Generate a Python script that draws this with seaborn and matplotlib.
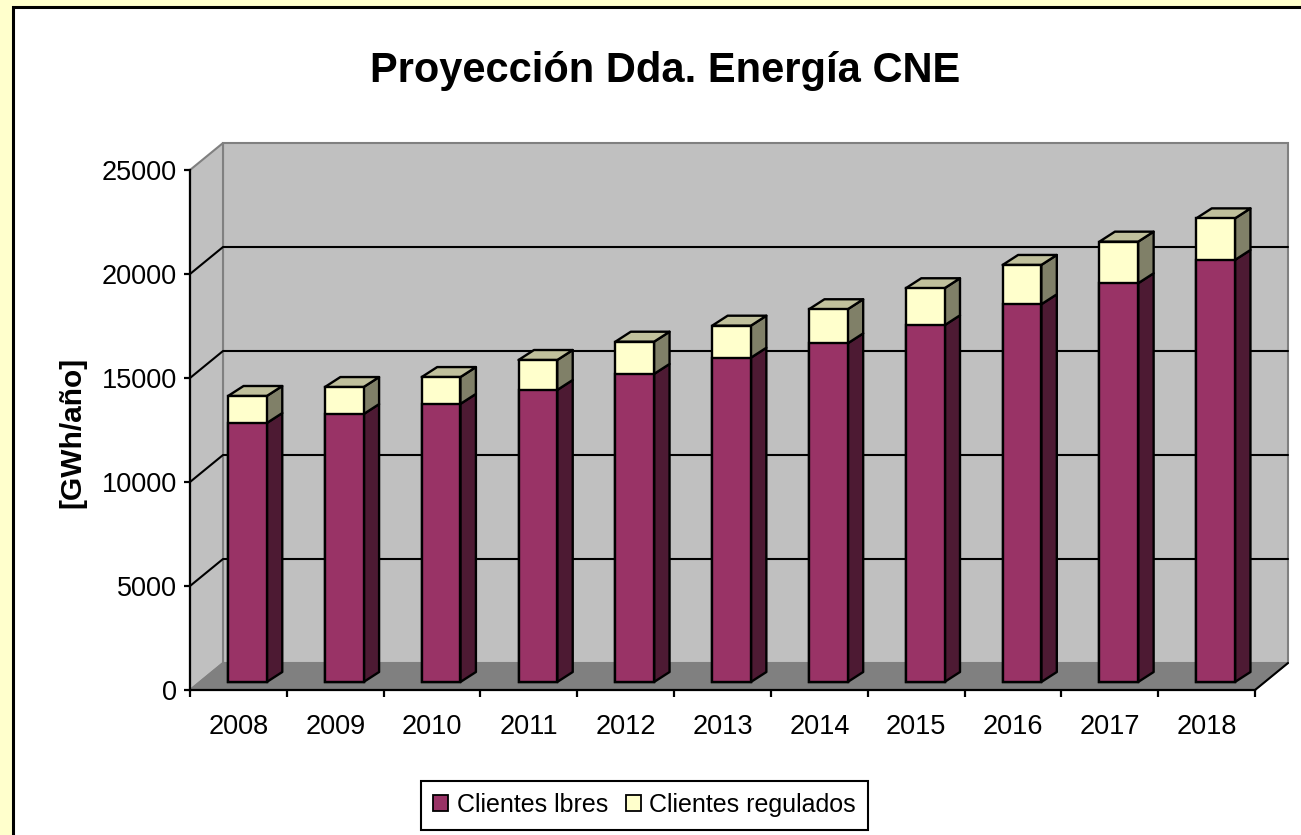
import numpy as np
import pandas as pd
import matplotlib
matplotlib.use('Agg')
import matplotlib.pyplot as plt
import matplotlib.transforms as mtransforms
from matplotlib.patches import Rectangle, Polygon, Patch
import seaborn as sns

# data (GWh/año)
years = ['2008', '2009', '2010', '2011', '2012', '2013', '2014', '2015', '2016', '2017', '2018']
libres = [12450, 12880, 13370, 14040, 14810, 15590, 16280, 17150, 18160, 19170, 20290]
regulados = [1300, 1300, 1290, 1440, 1550, 1540, 1640, 1780, 1890, 2000, 2000]
y_ticks = [0, 5000, 10000, 15000, 20000, 25000]

MAROON, MAROON_SIDE = '#993366', '#4D1A33'
YELLOW, YELLOW_SIDE, YELLOW_TOP = '#FFFFCC', '#808068', '#C0C09C'
WALL, FLOOR, EDGE_GRAY = '#C0C0C0', '#808080', '#808080'

sns.set_style('white')
plt.rcParams['font.family'] = ['Liberation Sans', 'DejaVu Sans']
plt.rcParams['text.color'] = 'black'

W, H = 1301, 835
fig = plt.figure(figsize=(W / 100, H / 100), dpi=100)
fig.patch.set_facecolor('#FFFFCC')

# white chart panel with black frame
fig.patches.append(Rectangle((13 / W, -0.2), 2.0, (H - 7) / H + 0.2, transform=fig.transFigure,
                             facecolor='white', edgecolor='black', linewidth=2.2, zorder=-10))

# front plane of the plot box (pixels from top-left)
x0_px, x1_px, y0_px, y1_px = 190, 1255, 690, 170
ax = fig.add_axes([x0_px / W, (H - y0_px) / H, (x1_px - x0_px) / W, (y0_px - y1_px) / H])
ax.patch.set_visible(False)

n = len(years)
xlim = (-0.5, n - 0.5)
ylim = (0, 25000)
px_x = (x1_px - x0_px) / (xlim[1] - xlim[0])
px_y = (y0_px - y1_px) / (ylim[1] - ylim[0])

def depth(dx_px, dy_px):
    return dx_px / px_x, dy_px / px_y

# walls and floor
Dx, Dy = depth(33, 27)
ax.add_patch(Rectangle((xlim[0] + Dx, Dy), xlim[1] - xlim[0], ylim[1], facecolor=WALL,
                       edgecolor=EDGE_GRAY, linewidth=1.5, zorder=0.5, clip_on=False))
ax.add_patch(Polygon([(xlim[0], 0), (xlim[0], ylim[1]), (xlim[0] + Dx, ylim[1] + Dy), (xlim[0] + Dx, Dy)],
                     facecolor=WALL, edgecolor=EDGE_GRAY, linewidth=1.5, zorder=0.6, clip_on=False))
ax.add_patch(Polygon([(xlim[0], 0), (xlim[1], 0), (xlim[1] + Dx, Dy), (xlim[0] + Dx, Dy)],
                     facecolor=FLOOR, edgecolor=EDGE_GRAY, linewidth=1.2, zorder=0.7, clip_on=False))
ax.plot([xlim[1], xlim[1] + Dx], [0, Dy], color='black', lw=1.5, zorder=0.9, clip_on=False)
for v in y_ticks[1:-1]:
    ax.plot([xlim[0], xlim[0] + Dx, xlim[1] + Dx], [v, v + Dy, v + Dy], color='black', lw=1.5,
            zorder=0.8, clip_on=False)

# bars: totals (yellow) under libres (maroon)
df = pd.DataFrame({'year': years, 'libres': libres, 'regulados': regulados})
df['total'] = df['libres'] + df['regulados']

before = list(ax.patches)
sns.barplot(data=df, x='year', y='total', color=YELLOW, saturation=1, width=0.4, errorbar=None,
            edgecolor='black', linewidth=1.7, ax=ax)
tot_patches = [p for p in ax.patches if p not in before]
before = list(ax.patches)
sns.barplot(data=df, x='year', y='libres', color=MAROON, saturation=1, width=0.4, errorbar=None,
            edgecolor='black', linewidth=1.7, ax=ax)
lib_patches = [p for p in ax.patches if p not in before]

shift = ax.transData + mtransforms.ScaledTranslation(9 / 100, 8 / 100, fig.dpi_scale_trans)
bx, by = depth(15.5, 10)
for pt, pl in zip(tot_patches, lib_patches):
    for p in (pt, pl):
        p.set_transform(shift)
        p.set_zorder(3)
        p.set_clip_on(False)
    x = pt.get_x() + pt.get_width()
    xl = pt.get_x()
    h_l, h_t = pl.get_height(), pt.get_height()
    faces = [
        ([(x, 0), (x, h_l), (x + bx, h_l + by), (x + bx, by)], MAROON_SIDE),
        ([(x, h_l), (x, h_t), (x + bx, h_t + by), (x + bx, h_l + by)], YELLOW_SIDE),
        ([(xl, h_t), (x, h_t), (x + bx, h_t + by), (xl + bx, h_t + by)], YELLOW_TOP),
    ]
    for verts, fc in faces:
        ax.add_patch(Polygon(verts, closed=True, facecolor=fc, edgecolor='black', linewidth=1.7,
                             joinstyle='round', transform=shift, zorder=2.5, clip_on=False))

# axes styling
ax.set_xlim(*xlim)
ax.set_ylim(*ylim)
ax.set_xlabel('')
ax.set_ylabel('')
ax.set_yticks(y_ticks)
ax.set_yticklabels([str(v) for v in y_ticks])
ax.set_xticks(range(n))
ax.set_xticklabels(years)
ax.set_xticks(np.arange(-0.5, n, 1), minor=True)
for side in ('top', 'right'):
    ax.spines[side].set_visible(False)
for side in ('left', 'bottom'):
    ax.spines[side].set_color('black')
    ax.spines[side].set_linewidth(1.6)
    ax.spines[side].set_zorder(1)
ax.tick_params(axis='y', left=True, length=4.5, width=1.6, direction='out', labelsize=19.5, pad=5,
               colors='black')
ax.tick_params(axis='x', which='major', bottom=True, length=0, labelsize=19.5, pad=17, colors='black')
ax.tick_params(axis='x', which='minor', bottom=True, length=5, width=1.6, direction='out', colors='black')
ax.grid(False)

fig.text(665 / W, (H - 82) / H, 'Proyección Dda. Energía CNE', ha='center', va='baseline',
         fontsize=30, fontweight='bold', color='black')
fig.text(72 / W, (H - 432) / H, '[GWh/año]', ha='center', va='center', rotation=90,
         fontsize=21.5, fontweight='bold', color='black')

handles = [Patch(facecolor=MAROON, edgecolor='black', linewidth=1.3, label='Clientes lbres'),
           Patch(facecolor=YELLOW, edgecolor='black', linewidth=1.3, label='Clientes regulados')]
leg = fig.legend(handles=handles, loc='center', bbox_to_anchor=(644.5 / W, 30 / H), ncol=2,
                 fontsize=18, frameon=True, fancybox=False, shadow=False, framealpha=1,
                 handlelength=0.6, handleheight=0.6, handletextpad=0.35, columnspacing=0.7,
                 borderpad=0.5)
leg.get_frame().set_edgecolor('black')
leg.get_frame().set_linewidth(1.5)
for t in leg.get_texts():
    t.set_color('black')

fig.savefig('out.png', dpi=100, facecolor=fig.get_facecolor())
